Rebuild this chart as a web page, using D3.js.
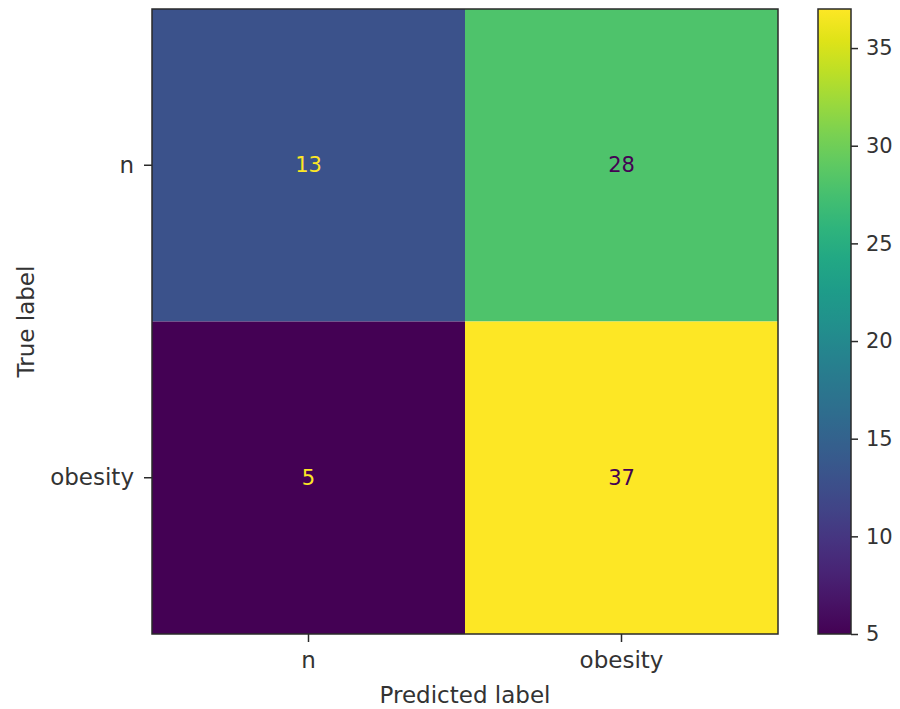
<!DOCTYPE html>
<html>
<head>
<meta charset="utf-8">
<script src="https://cdn.jsdelivr.net/npm/d3@7"></script>
<style>
  html, body { margin: 0; padding: 0; background: #fff; }
  svg { display: block; font-family: "DejaVu Sans", sans-serif; }
</style>
</head>
<body>
<svg id="chart" width="900" height="709"></svg>
<script>
// Confusion matrix: rows = true label, columns = predicted label
const trueLabels = ["n", "obesity"];
const predLabels = ["n", "obesity"];
const row_n = [13, 28];
const row_obesity = [5, 37];
const matrix = [row_n, row_obesity];
const colorbarTicks = [5, 10, 15, 20, 25, 30, 35];

const svg = d3.select("#chart");
const plotLeft = 152, plotTop = 9, plotW = 626, plotH = 625;
const textColor = "#333";
const labelSize = 23, numberSize = 21;

const allVals = matrix.flat();
const vmin = d3.min(allVals), vmax = d3.max(allVals);
const color = d3.scaleSequential(d3.interpolateViridis).domain([vmin, vmax]);

const x = d3.scaleBand().domain(predLabels).range([plotLeft, plotLeft + plotW]);
const y = d3.scaleBand().domain(trueLabels).range([plotTop, plotTop + plotH]);

const cells = [];
trueLabels.forEach((t, i) => predLabels.forEach((p, j) => cells.push({ t, p, v: matrix[i][j] })));

svg.append("g").selectAll("rect").data(cells).join("rect")
  .attr("x", d => x(d.p)).attr("y", d => y(d.t))
  .attr("width", x.bandwidth()).attr("height", y.bandwidth())
  .attr("fill", d => color(d.v));

// Cell annotations: light text on dark cells, dark text on light cells
const thresh = (vmin + vmax) / 2;
svg.append("g").selectAll("text").data(cells).join("text")
  .attr("x", d => x(d.p) + x.bandwidth() / 2)
  .attr("y", d => y(d.t) + y.bandwidth() / 2)
  .attr("text-anchor", "middle").attr("dominant-baseline", "central")
  .attr("font-size", numberSize)
  .attr("fill", d => d.v < thresh ? color(vmax) : color(vmin))
  .text(d => d.v);

// Frame
svg.append("rect").attr("x", plotLeft).attr("y", plotTop).attr("width", plotW).attr("height", plotH)
  .attr("fill", "none").attr("stroke", "#2a2a2a").attr("stroke-width", 1.5);

const styleAxis = size => g => {
  g.select(".domain").remove();
  g.selectAll(".tick line").attr("stroke", "#2a2a2a").attr("stroke-width", 1.5);
  g.selectAll(".tick text").attr("fill", textColor).attr("font-size", size)
    .attr("font-family", "DejaVu Sans, sans-serif");
};

svg.append("g").attr("transform", `translate(0,${plotTop + plotH})`)
  .call(d3.axisBottom(x).tickSize(8).tickPadding(10)).call(styleAxis(labelSize));
svg.append("g").attr("transform", `translate(${plotLeft},0)`)
  .call(d3.axisLeft(y).tickSize(8).tickPadding(10)).call(styleAxis(labelSize));

svg.append("text").attr("x", plotLeft + plotW / 2).attr("y", 703)
  .attr("text-anchor", "middle").attr("font-size", labelSize).attr("fill", textColor)
  .text("Predicted label");
svg.append("text").attr("transform", `translate(34,${plotTop + plotH / 2}) rotate(-90)`)
  .attr("text-anchor", "middle").attr("font-size", labelSize).attr("fill", textColor)
  .text("True label");

// Colorbar
const cbX = 818, cbW = 33;
const cy = d3.scaleLinear().domain([vmin, vmax]).range([plotTop + plotH, plotTop]);
const defs = svg.append("defs");
const grad = defs.append("linearGradient").attr("id", "cbgrad")
  .attr("x1", 0).attr("y1", 1).attr("x2", 0).attr("y2", 0);
d3.range(0, 1.0001, 0.05).forEach(t => {
  grad.append("stop").attr("offset", t).attr("stop-color", d3.interpolateViridis(t));
});
svg.append("rect").attr("x", cbX).attr("y", plotTop).attr("width", cbW).attr("height", plotH)
  .attr("fill", "url(#cbgrad)").attr("stroke", "#2a2a2a").attr("stroke-width", 1.5);
svg.append("g").attr("transform", `translate(${cbX + cbW},0)`)
  .call(d3.axisRight(cy).tickValues(colorbarTicks).tickSize(7).tickPadding(8)).call(styleAxis(numberSize));
</script>
</body>
</html>
